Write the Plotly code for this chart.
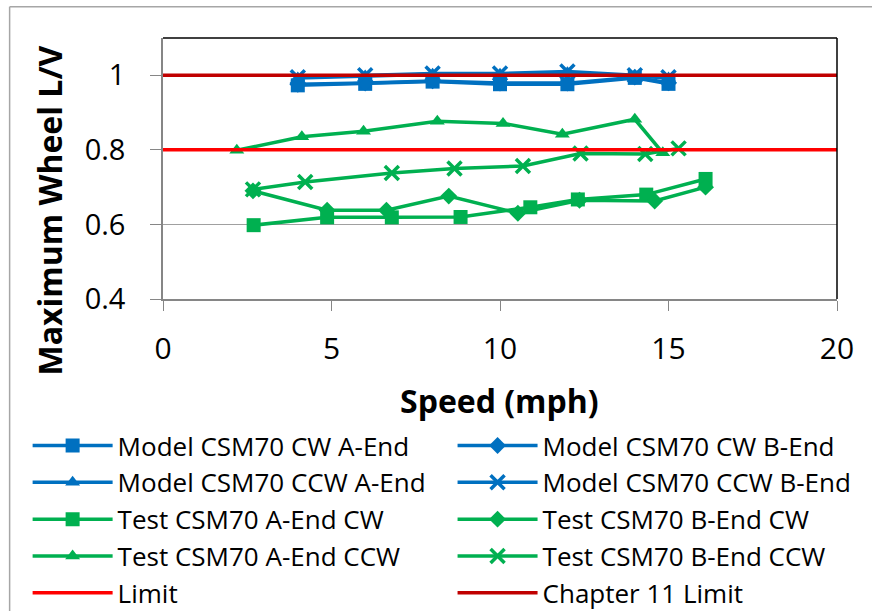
import plotly.graph_objects as go

# ---------------- data ----------------
model_speed = [4, 6, 8, 10, 12, 14, 15]
model_cw_a = [0.973, 0.977, 0.983, 0.976, 0.976, 0.993, 0.977]
model_cw_b = [0.976, 0.979, 0.985, 0.979, 0.979, 0.995, 0.980]
model_ccw_a = [0.993, 0.998, 1.003, 1.003, 1.007, 0.998, 0.993]
model_ccw_b = [0.995, 1.000, 1.005, 1.005, 1.010, 1.000, 0.995]

test_a_cw_x = [2.69, 4.87, 6.79, 8.83, 10.9, 12.31, 14.34, 16.1]
test_a_cw_y = [0.598, 0.619, 0.619, 0.620, 0.646, 0.667, 0.680, 0.722]

test_b_cw_x = [2.67, 4.87, 6.63, 8.48, 10.53, 12.36, 14.59, 16.1]
test_b_cw_y = [0.690, 0.638, 0.638, 0.676, 0.630, 0.665, 0.663, 0.700]

test_a_ccw_x = [2.19, 4.12, 5.95, 8.14, 10.09, 11.85, 14.0, 14.83]
test_a_ccw_y = [0.799, 0.835, 0.850, 0.877, 0.871, 0.842, 0.882, 0.792]

test_b_ccw_x = [2.67, 4.22, 6.79, 8.65, 10.68, 12.39, 14.31, 15.3]
test_b_ccw_y = [0.694, 0.714, 0.738, 0.750, 0.757, 0.790, 0.789, 0.804]

limit_x = [0, 20]
limit_y = [0.8, 0.8]
ch11_x = [0, 20]
ch11_y = [1.0, 1.0]

x_ticks = [0, 5, 10, 15, 20]
y_ticks = [0.4, 0.6, 0.8, 1.0]
y_tick_text = ["0.4", "0.6", "0.8", "1"]

BLUE = "#0070C0"
GREEN = "#00B050"
RED = "#FF0000"
DRED = "#C00000"
FONT = "Open Sans"

fig = go.Figure()

def add(name, x, y, color, symbol, size, legend):
    marker = dict(symbol=symbol, size=size, color=color)
    if symbol == "x-thin":
        marker["line"] = dict(width=3.5, color=color)
    fig.add_trace(go.Scatter(x=x, y=y, name=name, mode="lines+markers", legend=legend,
                             legendgroup=name,
                             line=dict(color=color, width=3.5), marker=marker))

add("Model CSM70 CW A-End", model_speed, model_cw_a, BLUE, "square", 14, "legend")
add("Model CSM70 CW B-End", model_speed, model_cw_b, BLUE, "diamond", 13, "legend2")
add("Model CSM70 CCW A-End", model_speed, model_ccw_a, BLUE, "triangle-up", 13, "legend")
add("Model CSM70 CCW B-End", model_speed, model_ccw_b, BLUE, "x-thin", 14, "legend2")
add("Test CSM70 A-End CW", test_a_cw_x, test_a_cw_y, GREEN, "square", 14, "legend")
add("Test CSM70 B-End CW", test_b_cw_x, test_b_cw_y, GREEN, "diamond", 13, "legend2")
add("Test CSM70 A-End CCW", test_a_ccw_x, test_a_ccw_y, GREEN, "triangle-up", 13, "legend")
add("Test CSM70 B-End CCW", test_b_ccw_x, test_b_ccw_y, GREEN, "x-thin", 14, "legend2")
fig.add_trace(go.Scatter(x=limit_x, y=limit_y, name="Limit", mode="lines", legend="legend",
                         legendgroup="Limit", line=dict(color=RED, width=3.5)))
fig.add_trace(go.Scatter(x=ch11_x, y=ch11_y, name="Chapter 11 Limit", mode="lines",
                         legend="legend2", legendgroup="Chapter 11 Limit",
                         line=dict(color=DRED, width=3.5)))

# pixel -> paper helpers for layout placement
L, R, T, B = 163.4, 837.5, 38.3, 299.0
def px(xp):
    return (xp - L) / (R - L)
def py(yp):
    return (B - yp) / (B - T)

leg_common = dict(orientation="v", xanchor="left", yanchor="top", maxheight=400,
                  font=dict(size=26, family=FONT), itemwidth=80, tracegroupgap=1,
                  bgcolor="rgba(0,0,0,0)", traceorder="normal")

fig.update_layout(
    width=872, height=611,
    margin=dict(l=L, r=872 - R, t=T, b=611 - B, autoexpand=False),
    paper_bgcolor="white", plot_bgcolor="white",
    font=dict(family=FONT, color="black"),
    showlegend=True,
    legend=dict(x=px(28), y=py(422), **leg_common),
    legend2=dict(x=px(453), y=py(422), **leg_common),
    xaxis=dict(range=[0, 20], tickvals=x_ticks, showgrid=False, zeroline=False,
               showline=True, linecolor="#868686", linewidth=1.5,
               ticks="outside", ticklen=10, tickcolor="#868686",
               tickfont=dict(size=30), ticklabelstandoff=12),
    yaxis=dict(range=[0.4, 1.1], tickvals=y_ticks, ticktext=y_tick_text,
               showgrid=True, gridcolor="#A0A0A0", gridwidth=1.2, zeroline=False,
               showline=True, linecolor="#868686", linewidth=1.5,
               ticks="outside", ticklen=11, tickcolor="#868686",
               tickfont=dict(size=29), ticklabelstandoff=19),
    shapes=[
        dict(type="line", xref="paper", yref="paper", x0=0, x1=1, y0=1, y1=1,
             line=dict(color="black", width=1.5)),
        dict(type="line", xref="paper", yref="paper", x0=1, x1=1, y0=0, y1=1,
             line=dict(color="black", width=1.5)),
        dict(type="line", xref="paper", yref="paper", x0=px(10), x1=px(875), y0=py(7), y1=py(7),
             line=dict(color="#A6A6A6", width=1.5)),
        dict(type="line", xref="paper", yref="paper", x0=px(10), x1=px(10), y0=py(7), y1=py(615),
             line=dict(color="#A6A6A6", width=1.5)),
    ],
    annotations=[
        dict(text="<b>Maximum Wheel L/V</b>", xref="paper", yref="paper",
             x=px(50), y=py(211), textangle=-90, showarrow=False,
             font=dict(size=32, family=FONT), xanchor="center", yanchor="middle"),
        dict(text="<b>Speed (mph)</b>", xref="paper", yref="paper",
             x=px(500), y=py(400), showarrow=False,
             font=dict(size=32, family=FONT), xanchor="center", yanchor="middle"),
    ],
)

fig.write_html("out.html")
